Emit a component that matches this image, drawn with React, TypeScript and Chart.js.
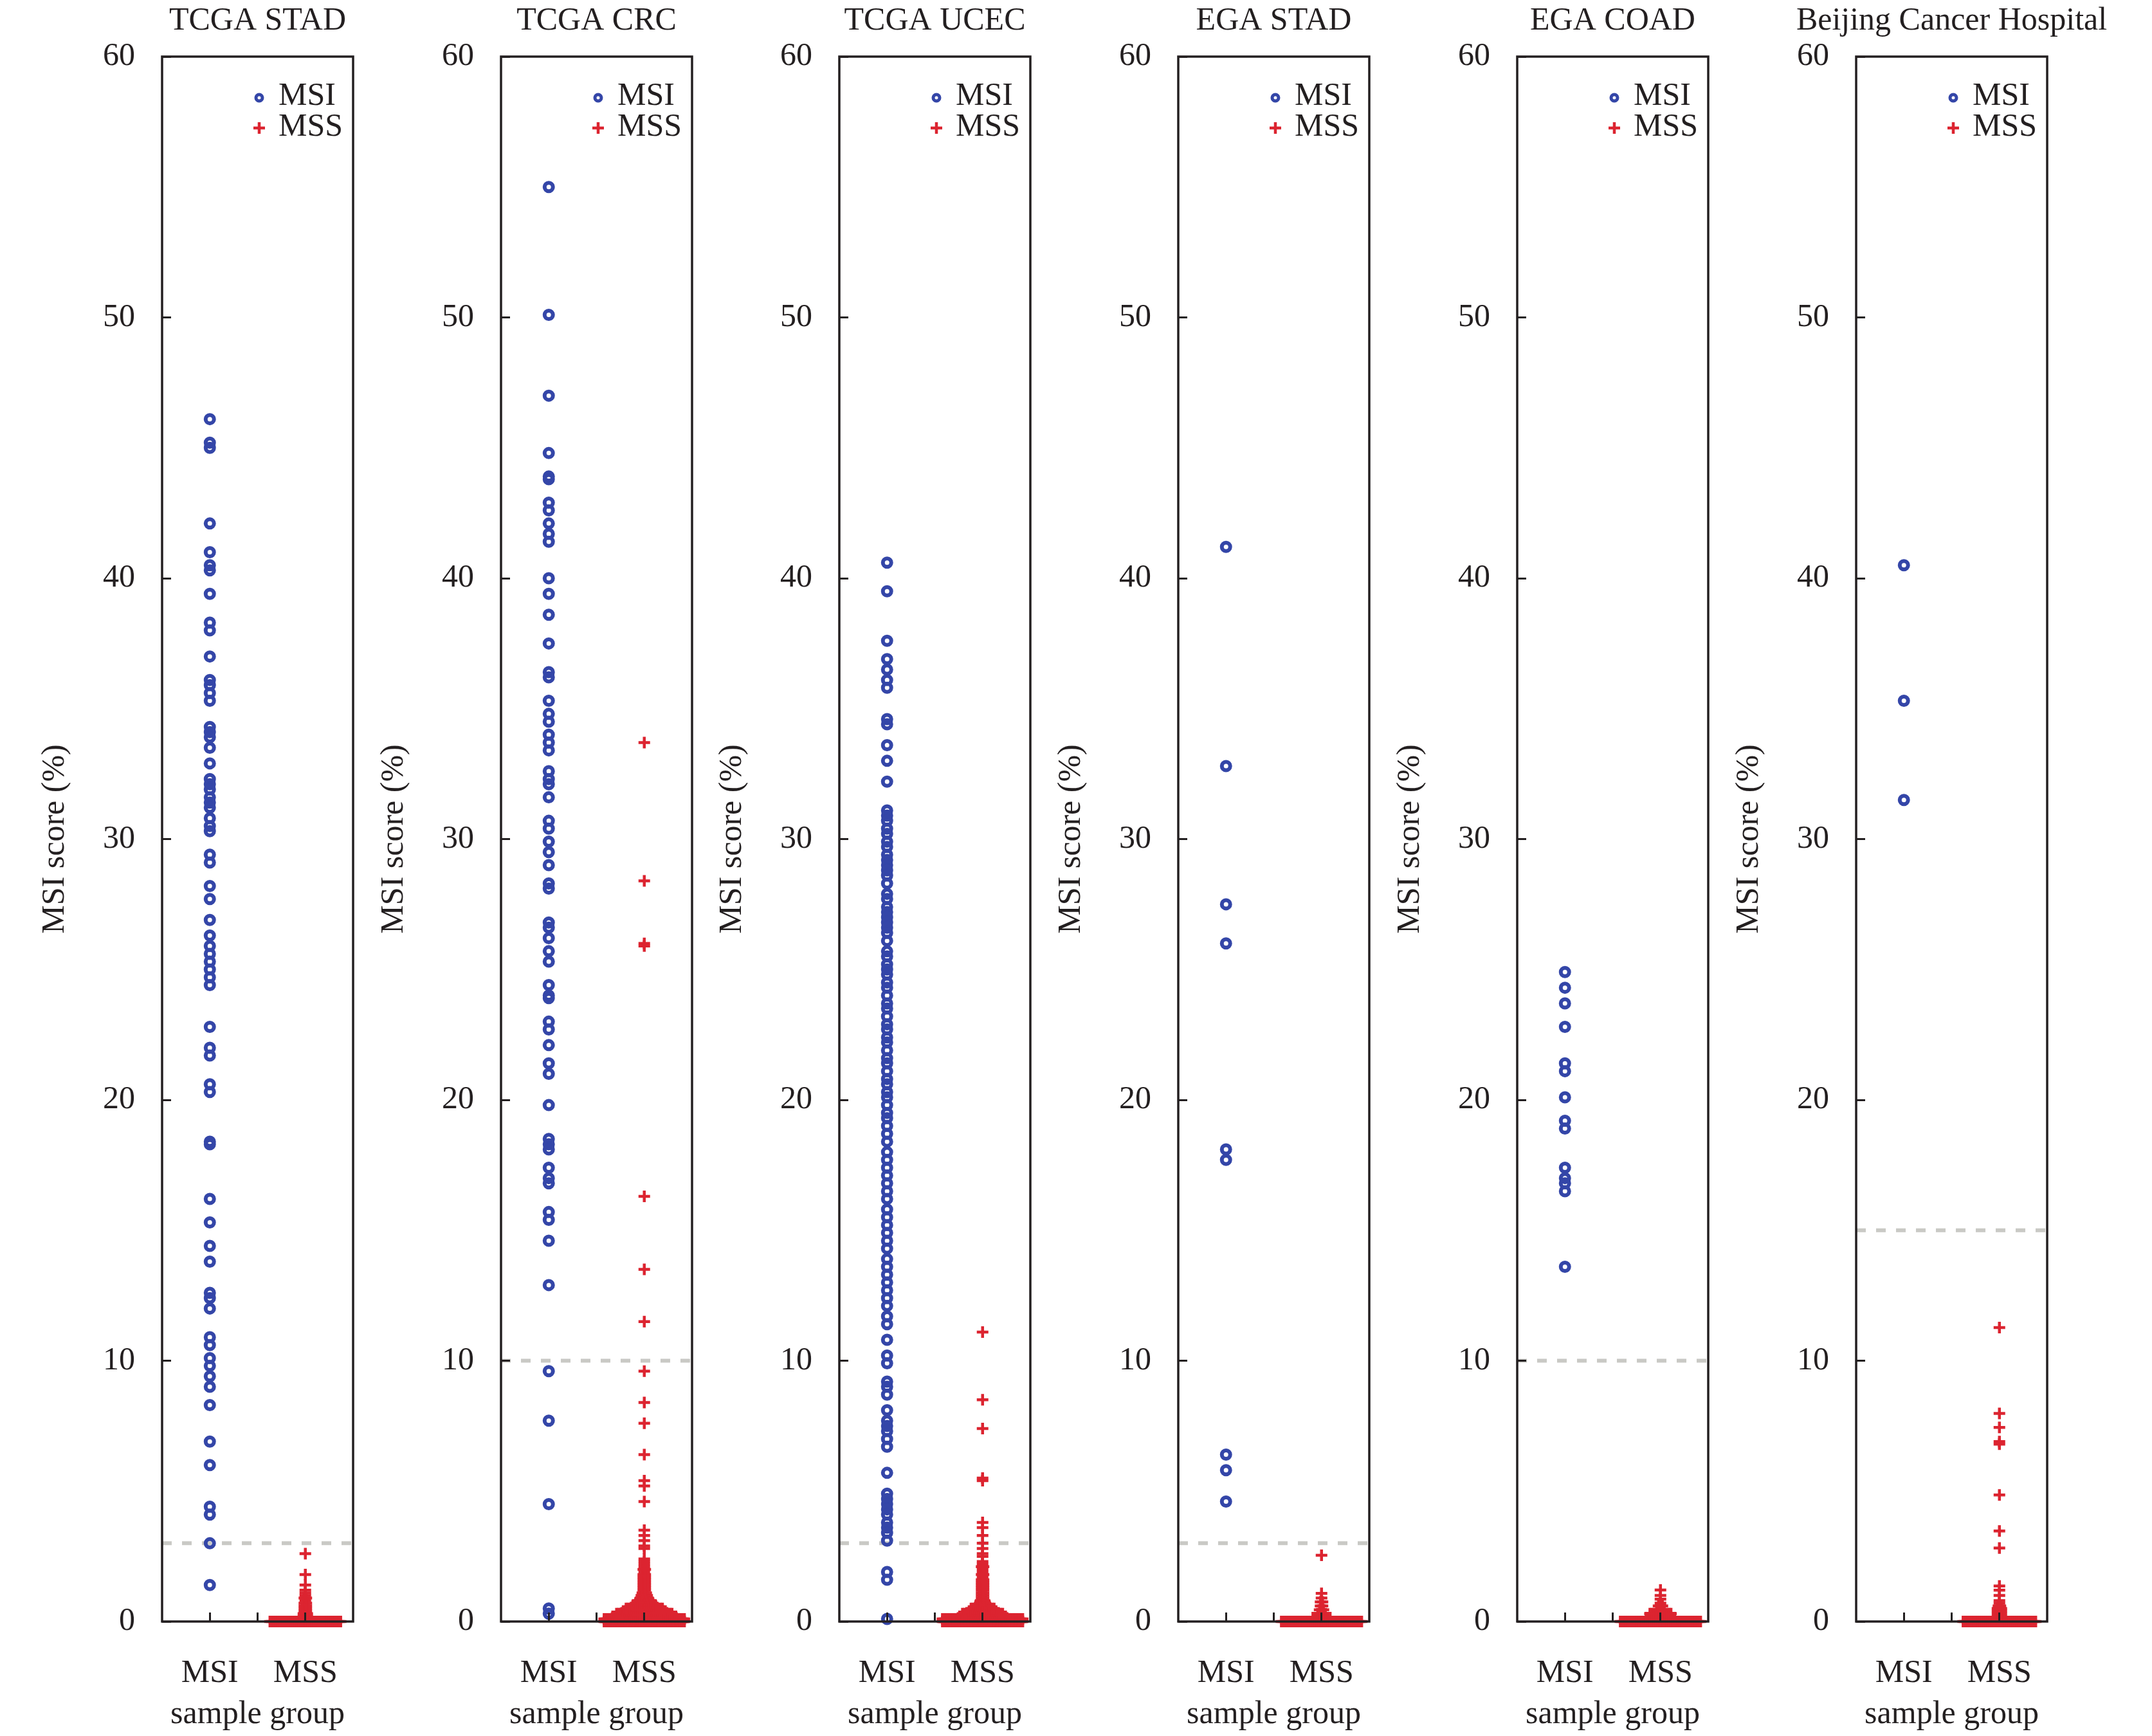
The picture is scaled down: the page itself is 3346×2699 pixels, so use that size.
import React, { useEffect, useRef } from 'react';
import { Chart, registerables } from 'chart.js';

Chart.register(...registerables);

// ---------------- data ----------------
const panelTitles = ['TCGA STAD', 'TCGA CRC', 'TCGA UCEC', 'EGA STAD', 'EGA COAD', 'Beijing Cancer Hospital'];
const thresholds = [3, 10, 3, 3, 10, 15];
const groupLabels = ['MSI', 'MSS'];
const groupPositions = [1, 2];
const dividerTick = 1.5;
const yTickValues = [0, 10, 20, 30, 40, 50, 60];
const legendLabels = ['MSI', 'MSS'];
const yAxisTitle = 'MSI score (%)';
const xAxisTitle = 'sample group';

// TCGA STAD
const stadMsi = [46.1, 45.2, 45.0, 42.1, 41.0, 40.5, 40.3, 39.4, 38.3, 38.0, 37.0, 36.1, 35.9, 35.6, 35.3, 34.3, 34.1, 33.9, 33.5, 32.9, 32.3, 32.1, 31.9, 31.6, 31.4, 31.2, 30.8, 30.5, 30.3, 29.4, 29.1, 28.2, 27.7, 26.9, 26.3, 25.9, 25.6, 25.3, 25.0, 24.7, 24.4, 22.8, 22.0, 21.7, 20.6, 20.3, 18.4, 18.3, 16.2, 15.3, 14.4, 13.8, 12.6, 12.4, 12.0, 10.9, 10.6, 10.1, 9.8, 9.4, 9.0, 8.3, 6.9, 6.0, 4.4, 4.1, 3.0, 1.4];
const stadMssValues = [0, 0.1, 0.2, 0.3, 0.4, 0.5, 0.6, 0.7, 0.8, 0.9, 1.0, 1.1, 1.2, 1.4, 1.8, 2.6];
const stadMssCounts = [38, 4, 3, 3, 2, 2, 2, 2, 1, 2, 1, 1, 1, 1, 1, 1];

// TCGA CRC
const crcMsi = [55.0, 50.1, 47.0, 44.8, 43.9, 43.8, 42.9, 42.6, 42.1, 41.7, 41.4, 40.0, 39.4, 38.6, 37.5, 36.4, 36.2, 35.3, 34.8, 34.5, 34.0, 33.7, 33.4, 32.6, 32.3, 32.1, 31.6, 30.7, 30.4, 29.9, 29.5, 29.0, 28.3, 28.1, 26.8, 26.6, 26.2, 25.7, 25.3, 24.4, 24.0, 23.9, 23.0, 22.7, 22.1, 21.4, 21.0, 19.8, 18.5, 18.3, 18.1, 17.4, 17.0, 16.8, 15.7, 15.4, 14.6, 12.9, 9.6, 7.7, 4.5, 0.5, 0.3];
const crcMssValues = [0, 0.1, 0.2, 0.3, 0.4, 0.5, 0.6, 0.7, 0.8, 0.9, 1.0, 1.1, 1.2, 1.3, 1.4, 1.5, 1.6, 1.7, 1.8, 1.9, 2.0, 2.1, 2.2, 2.3, 2.4, 2.8, 2.9, 3.1, 3.3, 3.5, 4.6, 5.2, 5.4, 6.4, 7.6, 8.4, 9.6, 11.5, 13.5, 16.3, 25.9, 26.0, 28.4, 33.7];
const crcMssCounts = [100, 60, 34, 30, 23, 20, 13, 10, 8, 5, 4, 3, 2, 2, 2, 2, 2, 2, 2, 1, 2, 1, 1, 1, 1, 1, 1, 1, 1, 1, 1, 1, 1, 1, 1, 1, 1, 1, 1, 1, 1, 1, 1, 1];

// TCGA UCEC
const ucecMsi = [40.6, 39.5, 37.6, 36.9, 36.5, 36.1, 35.8, 34.6, 34.4, 33.6, 33.0, 32.2, 31.1, 30.9, 30.7, 30.4, 30.2, 29.9, 29.7, 29.4, 29.2, 29.0, 28.8, 28.6, 28.3, 27.9, 27.7, 27.4, 27.2, 27.0, 26.8, 26.6, 26.4, 26.1, 25.7, 25.5, 25.2, 25.0, 24.8, 24.5, 24.3, 24.0, 23.7, 23.5, 23.2, 22.9, 22.7, 22.4, 22.2, 21.9, 21.6, 21.4, 21.1, 20.8, 20.6, 20.3, 20.1, 19.8, 19.5, 19.3, 19.0, 18.7, 18.4, 18.0, 17.7, 17.4, 17.1, 16.8, 16.5, 16.2, 15.8, 15.5, 15.2, 14.9, 14.6, 14.3, 13.9, 13.6, 13.3, 13.0, 12.7, 12.4, 12.1, 11.7, 11.4, 10.8, 10.2, 9.9, 9.2, 9.0, 8.7, 8.1, 7.7, 7.5, 7.3, 7.0, 6.7, 5.7, 4.9, 4.7, 4.5, 4.3, 4.1, 3.8, 3.6, 3.4, 3.1, 1.9, 1.6, 0.1];
const ucecMssValues = [0, 0.1, 0.2, 0.3, 0.4, 0.5, 0.6, 0.7, 0.8, 0.9, 1.0, 1.1, 1.2, 1.3, 1.4, 1.5, 1.6, 1.7, 1.8, 1.9, 2.0, 2.1, 2.2, 2.3, 2.5, 2.6, 2.8, 3.0, 3.3, 3.6, 3.8, 5.4, 5.5, 7.4, 8.5, 11.1];
const ucecMssCounts = [100, 50, 25, 22, 15, 13, 8, 4, 3, 2, 2, 2, 2, 2, 2, 2, 2, 1, 2, 1, 1, 2, 1, 1, 1, 1, 1, 1, 1, 1, 1, 1, 1, 1, 1, 1];

// EGA STAD
const egaStadMsi = [41.2, 32.8, 27.5, 26.0, 18.1, 17.7, 6.4, 5.8, 4.6];
const egaStadMssValues = [0, 0.15, 0.3, 0.45, 0.6, 0.75, 0.9, 1.08, 2.54];
const egaStadMssCounts = [44, 10, 5, 3, 2, 2, 1, 1, 1];

// EGA COAD
const egaCoadMsi = [24.9, 24.3, 23.7, 22.8, 21.4, 21.1, 20.1, 19.2, 18.9, 17.4, 17.0, 16.8, 16.5, 13.6];
const egaCoadMssValues = [0, 0.15, 0.3, 0.45, 0.6, 0.7, 0.86, 1.0, 1.21];
const egaCoadMssCounts = [44, 16, 12, 5, 3, 1, 1, 1, 1];

// Beijing Cancer Hospital
const bchMsi = [40.5, 35.3, 31.5];
const bchMssValues = [0, 0.1, 0.2, 0.3, 0.4, 0.5, 0.6, 0.7, 0.8, 1.0, 1.2, 1.36, 2.82, 3.47, 4.85, 6.8, 6.9, 7.44, 7.98, 11.27];
const bchMssCounts = [39, 3, 3, 3, 3, 3, 2, 1, 1, 1, 1, 1, 1, 1, 1, 1, 1, 1, 1, 1];

const panelMsi = [stadMsi, crcMsi, ucecMsi, egaStadMsi, egaCoadMsi, bchMsi];
const panelMssValues = [stadMssValues, crcMssValues, ucecMssValues, egaStadMssValues, egaCoadMssValues, bchMssValues];
const panelMssCounts = [stadMssCounts, crcMssCounts, ucecMssCounts, egaStadMssCounts, egaCoadMssCounts, bchMssCounts];

// ---------------- style / layout ----------------
const PAGE_W = 3346;
const PAGE_H = 2699;
const PANEL_STEP = 526.7;
const CANVAS_W = 700;
const PLOT_LEFT = 252;
const PLOT_W = 297;
const PLOT_TOP = 88;
const PLOT_BOTTOM = 2521;
const FONT_FAMILY = '"Liberation Serif", "Times New Roman", serif';
const FONT_SIZE = 50;
const TEXT_COLOR = '#231f20';
const BLUE = '#3446a8';
const RED = '#dc2430';
const DASH_COLOR = '#c9c9c5';
const SWARM_STEP = 0.02;
const SWARM_MAX = 0.42;

function swarm(values: number[], counts: number[] | null, center: number) {
  const pts: { x: number; y: number }[] = [];
  values.forEach((v, k) => {
    const n = counts ? counts[k] : 1;
    const half = Math.min(((n - 1) * SWARM_STEP) / 2, SWARM_MAX);
    for (let j = 0; j < n; j++) {
      const x = n === 1 ? center : center - half + (2 * half * j) / (n - 1);
      pts.push({ x, y: v });
    }
  });
  return pts;
}

function makeDecorPlugin(title: string) {
  return {
    id: 'panelDecor',
    afterDatasetsDraw(chart: any) {
      const { ctx, chartArea } = chart;
      const { left, right, top, bottom } = chartArea;
      ctx.save();
      ctx.strokeStyle = TEXT_COLOR;
      ctx.lineWidth = 3.5;
      ctx.strokeRect(left, top, right - left, bottom - top);
      ctx.restore();
    },
    afterDraw(chart: any) {
      const { ctx, chartArea } = chart;
      const { left, right } = chartArea;
      ctx.save();
      ctx.fillStyle = TEXT_COLOR;
      ctx.font = `${FONT_SIZE}px ${FONT_FAMILY}`;
      ctx.textAlign = 'center';
      ctx.textBaseline = 'middle';
      ctx.fillText(title, (left + right) / 2, 33);

      // legend
      const mx = left + 151;
      const tx = left + 181;
      const rows = [150, 198];
      ctx.textAlign = 'left';
      ctx.fillText(legendLabels[0], tx, rows[0]);
      ctx.fillText(legendLabels[1], tx, rows[1]);
      ctx.strokeStyle = BLUE;
      ctx.lineWidth = 5;
      ctx.beginPath();
      ctx.arc(mx, rows[0] + 2, 5, 0, Math.PI * 2);
      ctx.stroke();
      ctx.strokeStyle = RED;
      ctx.lineWidth = 4.5;
      ctx.beginPath();
      ctx.moveTo(mx - 9, rows[1] + 1);
      ctx.lineTo(mx + 9, rows[1] + 1);
      ctx.moveTo(mx, rows[1] + 1 - 9);
      ctx.lineTo(mx, rows[1] + 1 + 9);
      ctx.stroke();
      ctx.restore();
    },
  };
}

function buildConfig(i: number): any {
  const font = { family: FONT_FAMILY, size: FONT_SIZE };
  const msiPts = swarm(panelMsi[i], null, groupPositions[0]);
  const mssPts = swarm(panelMssValues[i], panelMssCounts[i], groupPositions[1]);
  return {
    type: 'scatter',
    data: {
      datasets: [
        {
          label: legendLabels[0],
          data: msiPts,
          pointStyle: 'circle',
          pointRadius: 6.5,
          borderWidth: 6,
          borderColor: BLUE,
          backgroundColor: 'rgba(0,0,0,0)',
          clip: false,
          order: 1,
        },
        {
          label: legendLabels[1],
          data: mssPts,
          pointStyle: 'cross',
          pointRadius: 9,
          borderWidth: 4.5,
          borderColor: RED,
          backgroundColor: RED,
          clip: false,
          order: 2,
        },
        {
          type: 'line',
          label: 'threshold',
          data: [
            { x: 0.5, y: thresholds[i] },
            { x: 2.5, y: thresholds[i] },
          ],
          borderColor: DASH_COLOR,
          borderWidth: 6,
          borderDash: [15, 16],
          pointRadius: 0,
          showLine: true,
          fill: false,
          clip: false,
          order: 3,
        },
      ],
    },
    options: {
      animation: false,
      responsive: false,
      maintainAspectRatio: false,
      events: [],
      layout: { padding: { left: 0, top: PLOT_TOP, right: CANVAS_W - PLOT_LEFT - PLOT_W, bottom: 0 } },
      plugins: {
        legend: { display: false },
        tooltip: { enabled: false },
        title: { display: false },
      },
      scales: {
        x: {
          type: 'linear',
          position: 'bottom',
          min: 0.5,
          max: 2.5,
          afterBuildTicks: (scale: any) => {
            scale.ticks = [groupPositions[0], dividerTick, groupPositions[1]].map((value) => ({ value }));
          },
          afterFit: (scale: any) => {
            scale.height = PAGE_H - PLOT_BOTTOM;
          },
          ticks: {
            autoSkip: false,
            maxRotation: 0,
            minRotation: 0,
            padding: 65,
            color: TEXT_COLOR,
            font,
            callback: (value: number) => {
              const k = groupPositions.indexOf(value);
              return k >= 0 ? groupLabels[k] : '';
            },
          },
          grid: {
            drawOnChartArea: false,
            drawTicks: true,
            tickLength: -14,
            tickWidth: 3,
            tickColor: TEXT_COLOR,
            color: TEXT_COLOR,
            z: 1,
          },
          border: { display: false },
          title: {
            display: true,
            text: xAxisTitle,
            color: TEXT_COLOR,
            font,
            padding: { top: 0, bottom: 3 },
          },
        },
        y: {
          type: 'linear',
          position: 'left',
          min: 0,
          max: 60,
          afterBuildTicks: (scale: any) => {
            scale.ticks = yTickValues.map((value) => ({ value }));
          },
          afterFit: (scale: any) => {
            scale.width = PLOT_LEFT;
          },
          ticks: {
            padding: 56,
            color: TEXT_COLOR,
            font,
          },
          grid: {
            drawOnChartArea: false,
            drawTicks: true,
            tickLength: -14,
            tickWidth: 3,
            tickColor: TEXT_COLOR,
            color: TEXT_COLOR,
            z: 1,
          },
          border: { display: false },
          title: {
            display: true,
            text: yAxisTitle,
            color: TEXT_COLOR,
            font,
            padding: { top: 56, bottom: 0 },
          },
        },
      },
    },
    plugins: [makeDecorPlugin(panelTitles[i])],
  };
}

function Panel({ index }: { index: number }) {
  const ref = useRef<HTMLCanvasElement | null>(null);
  useEffect(() => {
    if (!ref.current) return;
    const chart = new Chart(ref.current, buildConfig(index));
    return () => chart.destroy();
  }, [index]);
  return (
    <canvas
      ref={ref}
      width={CANVAS_W}
      height={PAGE_H}
      style={{
        position: 'absolute',
        left: Math.round(index * PANEL_STEP),
        top: 0,
        width: CANVAS_W,
        height: PAGE_H,
      }}
    />
  );
}

export default function App() {
  return (
    <div
      style={{
        position: 'absolute',
        left: 0,
        top: 0,
        width: PAGE_W,
        height: PAGE_H,
        overflow: 'hidden',
        background: '#ffffff',
      }}
    >
      {panelTitles.map((_, i) => (
        <Panel key={i} index={i} />
      ))}
    </div>
  );
}
